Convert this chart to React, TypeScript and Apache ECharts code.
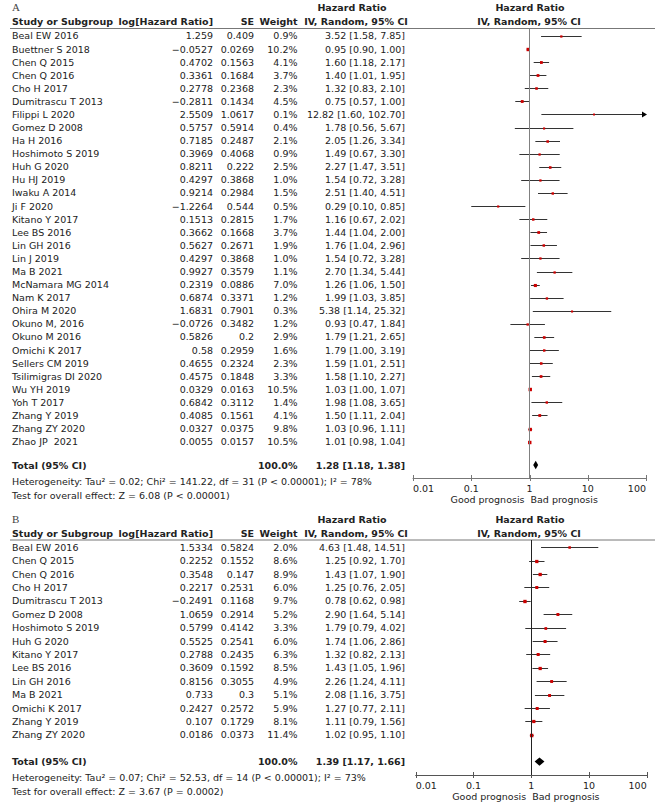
import React, { useEffect, useRef } from "react";
import * as echarts from "echarts";

// ---------- Data: panel A ----------
const studiesA = [
  "Beal EW 2016", "Buettner S 2018", "Chen Q 2015", "Chen Q 2016", "Cho H 2017",
  "Dumitrascu T 2013", "Filippi L 2020", "Gomez D 2008", "Ha H 2016", "Hoshimoto S 2019",
  "Huh G 2020", "Hu HJ 2019", "Iwaku A 2014", "Ji F 2020", "Kitano Y 2017",
  "Lee BS 2016", "Lin GH 2016", "Lin J 2019", "Ma B 2021", "McNamara MG 2014",
  "Nam K 2017", "Ohira M 2020", "Okuno M, 2016", "Okuno M 2016", "Omichi K 2017",
  "Sellers CM 2019", "Tsilimigras DI 2020", "Wu YH 2019", "Yoh T 2017", "Zhang Y 2019",
  "Zhang ZY 2020", "Zhao JP  2021",
];
const logHrA = [
  1.259, -0.0527, 0.4702, 0.3361, 0.2778, -0.2811, 2.5509, 0.5757, 0.7185, 0.3969,
  0.8211, 0.4297, 0.9214, -1.2264, 0.1513, 0.3662, 0.5627, 0.4297, 0.9927, 0.2319,
  0.6874, 1.6831, -0.0726, 0.5826, 0.58, 0.4655, 0.4575, 0.0329, 0.6842, 0.4085,
  0.0327, 0.0055,
];
const seA = [
  0.409, 0.0269, 0.1563, 0.1684, 0.2368, 0.1434, 1.0617, 0.5914, 0.2487, 0.4068,
  0.222, 0.3868, 0.2984, 0.544, 0.2815, 0.1668, 0.2671, 0.3868, 0.3579, 0.0886,
  0.3371, 0.7901, 0.3482, 0.2, 0.2959, 0.2324, 0.1848, 0.0163, 0.3112, 0.1561,
  0.0375, 0.0157,
];
const weightA = [
  0.9, 10.2, 4.1, 3.7, 2.3, 4.5, 0.1, 0.4, 2.1, 0.9,
  2.5, 1.0, 1.5, 0.5, 1.7, 3.7, 1.9, 1.0, 1.1, 7.0,
  1.2, 0.3, 1.2, 2.9, 1.6, 2.3, 3.3, 10.5, 1.4, 4.1,
  9.8, 10.5,
];
const hrA = [
  3.52, 0.95, 1.6, 1.4, 1.32, 0.75, 12.82, 1.78, 2.05, 1.49,
  2.27, 1.54, 2.51, 0.29, 1.16, 1.44, 1.76, 1.54, 2.7, 1.26,
  1.99, 5.38, 0.93, 1.79, 1.79, 1.59, 1.58, 1.03, 1.98, 1.5,
  1.03, 1.01,
];
const loA = [
  1.58, 0.9, 1.18, 1.01, 0.83, 0.57, 1.6, 0.56, 1.26, 0.67,
  1.47, 0.72, 1.4, 0.1, 0.67, 1.04, 1.04, 0.72, 1.34, 1.06,
  1.03, 1.14, 0.47, 1.21, 1.0, 1.01, 1.1, 1.0, 1.08, 1.11,
  0.96, 0.98,
];
const hiA = [
  7.85, 1.0, 2.17, 1.95, 2.1, 1.0, 102.7, 5.67, 3.34, 3.3,
  3.51, 3.28, 4.51, 0.85, 2.02, 2.0, 2.96, 3.28, 5.44, 1.5,
  3.85, 25.32, 1.84, 2.65, 3.19, 2.51, 2.27, 1.07, 3.65, 2.04,
  1.11, 1.04,
];
const totalA = [1.28, 1.18, 1.38];
const hetA = "Heterogeneity: Tau\u00B2 = 0.02; Chi\u00B2 = 141.22, df = 31 (P < 0.00001); I\u00B2 = 78%";
const effectA = "Test for overall effect: Z = 6.08 (P < 0.00001)";

// ---------- Data: panel B ----------
const studiesB = [
  "Beal EW 2016", "Chen Q 2015", "Chen Q 2016", "Cho H 2017", "Dumitrascu T 2013",
  "Gomez D 2008", "Hoshimoto S 2019", "Huh G 2020", "Kitano Y 2017", "Lee BS 2016",
  "Lin GH 2016", "Ma B 2021", "Omichi K 2017", "Zhang Y 2019", "Zhang ZY 2020",
];
const logHrB = [
  1.5334, 0.2252, 0.3548, 0.2217, -0.2491, 1.0659, 0.5799, 0.5525, 0.2788, 0.3609,
  0.8156, 0.733, 0.2427, 0.107, 0.0186,
];
const seB = [
  0.5824, 0.1552, 0.147, 0.2531, 0.1168, 0.2914, 0.4142, 0.2541, 0.2435, 0.1592,
  0.3055, 0.3, 0.2572, 0.1729, 0.0373,
];
const weightB = [2.0, 8.6, 8.9, 6.0, 9.7, 5.2, 3.3, 6.0, 6.3, 8.5, 4.9, 5.1, 5.9, 8.1, 11.4];
const hrB = [4.63, 1.25, 1.43, 1.25, 0.78, 2.9, 1.79, 1.74, 1.32, 1.43, 2.26, 2.08, 1.27, 1.11, 1.02];
const loB = [1.48, 0.92, 1.07, 0.76, 0.62, 1.64, 0.79, 1.06, 0.82, 1.05, 1.24, 1.16, 0.77, 0.79, 0.95];
const hiB = [14.51, 1.7, 1.9, 2.05, 0.98, 5.14, 4.02, 2.86, 2.13, 1.96, 4.11, 3.75, 2.11, 1.56, 1.1];
const totalB = [1.39, 1.17, 1.66];
const hetB = "Heterogeneity: Tau\u00B2 = 0.07; Chi\u00B2 = 52.53, df = 14 (P < 0.00001); I\u00B2 = 73%";
const effectB = "Test for overall effect: Z = 3.67 (P = 0.0002)";

const tickValues = [0.01, 0.1, 1, 10, 100];
const tickLabels = ["0.01", "0.1", "1", "10", "100"];

// ---------- Layout / style ----------
const FONT = '"DejaVu Sans", sans-serif';
const FS = 9.5;
const TXT = "#222";
const RED = "#cc0000";

const panels = [
  {
    label: "A", studies: studiesA, logHr: logHrA, se: seA, weight: weightA, hr: hrA, lo: loA, hi: hiA,
    total: totalA, het: hetA, effect: effectA,
    top: 28.5, axisY: 478, left: 413, right: 646, yMin: -0.57, yMax: 33.78, totalRow: 32.79,
    titleY: 7, head1Y: 7.5, head2Y: 21.5, hetY: 481, effY: 495.5, progY: 499.5,
    vColor: "#808080", axColor: "#777",
  },
  {
    label: "B", studies: studiesB, logHr: logHrB, se: seB, weight: weightB, hr: hrB, lo: loB, hi: hiB,
    total: totalB, het: hetB, effect: effectB,
    top: 540, axisY: 775, left: 415.7, right: 646.7, yMin: -0.545, yMax: 17, totalRow: 16,
    titleY: 519, head1Y: 519.5, head2Y: 533, hetY: 777, effY: 791, progY: 796,
    vColor: "#222", axColor: "#555",
  },
];

const fmtNum = (v: number) => String(v).replace("-", "\u2212");
const fmtCI = (h: number, l: number, u: number) => `${h.toFixed(2)} [${l.toFixed(2)}, ${u.toFixed(2)}]`;

function txt(x: number, y: number, text: string, align: string, bold = false, extra: any = {}) {
  return {
    type: "text",
    x,
    y,
    silent: true,
    style: {
      text,
      fill: TXT,
      font: `${bold ? "bold " : ""}${FS}px ${FONT}`,
      align,
      textAlign: align,
      verticalAlign: "middle",
      textVerticalAlign: "middle",
      ...extra,
    },
  };
}

function buildOption() {
  const grid: any[] = [];
  const xAxis: any[] = [];
  const yAxis: any[] = [];
  const series: any[] = [];
  const graphic: any[] = [];

  panels.forEach((p, k) => {
    grid.push({ left: p.left, top: p.top, width: p.right - p.left, height: p.axisY - p.top, containLabel: false });
    xAxis.push({
      type: "log", logBase: 10, gridIndex: k, min: 0.01, max: 100, position: "bottom",
      axisLine: { show: true, onZero: false, lineStyle: { color: p.axColor, width: 1 } },
      axisTick: { show: false },
      axisLabel: {
        show: true, margin: 5, fontSize: FS, fontFamily: FONT, color: TXT,
        alignMinLabel: "left", alignMaxLabel: "right",
        formatter: (v: number) => tickLabels[Math.round(Math.log10(v)) + 2] ?? "",
      },
      splitLine: { show: false },
      minorTick: { show: false },
    });
    yAxis.push({ type: "value", gridIndex: k, inverse: true, min: p.yMin, max: p.yMax, show: false });

    // axis tick marks crossing the axis line
    series.push({
      type: "custom",
      xAxisIndex: k,
      yAxisIndex: k,
      encode: { x: 0, y: 1 },
      data: tickValues.map((v) => [v, p.yMax]),
      renderItem: (params: any, api: any) => {
        const c = api.coord([api.value(0), api.value(1)]);
        const x = Math.round(c[0]) + 0.5;
        return {
          type: "line",
          shape: { x1: x, y1: c[1] - 3, x2: x, y2: c[1] + 3 },
          style: { stroke: p.axColor, lineWidth: 1 },
        };
      },
      z: 4,
    });

    // forest marks
    series.push({
      type: "custom",
      xAxisIndex: k,
      yAxisIndex: k,
      encode: { x: [0, 1, 2], y: 3 },
      data: p.studies.map((_, i) => [p.lo[i], p.hi[i], p.hr[i], i, p.weight[i]]),
      renderItem: (params: any, api: any) => {
        const lo = api.value(0);
        const hi = api.value(1);
        const hr = api.value(2);
        const row = api.value(3);
        const w = api.value(4);
        const hiC = Math.min(hi, 100);
        const a = api.coord([lo, row]);
        const b = api.coord([hiC, row]);
        const c = api.coord([hr, row]);
        const y = Math.round(c[1]) + 0.5;
        const s = 1.8 + 0.5 * Math.sqrt(w);
        const children: any[] = [
          { type: "line", shape: { x1: a[0], y1: y, x2: b[0], y2: y }, style: { stroke: "#333", lineWidth: 1 } },
          { type: "rect", shape: { x: c[0] - s / 2, y: y - s / 2, width: s, height: s }, style: { fill: RED } },
        ];
        if (hi > 100) {
          children.push({
            type: "polygon",
            shape: { points: [[b[0] + 1, y], [b[0] - 4, y - 3], [b[0] - 4, y + 3]] },
            style: { fill: "#000" },
          });
        }
        return { type: "group", children };
      },
      markLine: {
        silent: true,
        symbol: ["none", "none"],
        label: { show: false },
        lineStyle: { color: p.vColor, type: "solid", width: 1 },
        data: [{ xAxis: 1 }],
      },
      z: 3,
    });

    // table text rows
    series.push({
      type: "custom",
      xAxisIndex: k,
      yAxisIndex: k,
      encode: { x: 0, y: 1 },
      data: p.studies.map((_, i) => [1, i]),
      renderItem: (params: any, api: any) => {
        const i = params.dataIndex;
        const y = api.coord([1, api.value(1)])[1];
        return {
          type: "group",
          children: [
            txt(12, y, p.studies[i], "left"),
            txt(213, y, fmtNum(p.logHr[i]), "right"),
            txt(254, y, String(p.se[i]), "right"),
            txt(297.5, y, p.weight[i].toFixed(1) + "%", "right"),
            txt(405, y, fmtCI(p.hr[i], p.lo[i], p.hi[i]), "right"),
          ],
        };
      },
      z: 2,
    });

    // total row with diamond
    series.push({
      type: "custom",
      xAxisIndex: k,
      yAxisIndex: k,
      encode: { x: [0, 1, 2], y: 3 },
      data: [[p.total[1], p.total[2], p.total[0], p.totalRow]],
      renderItem: (params: any, api: any) => {
        const lo = api.value(0);
        const hi = api.value(1);
        const hr = api.value(2);
        const row = api.value(3);
        const a = api.coord([lo, row]);
        const b = api.coord([hi, row]);
        const c = api.coord([hr, row]);
        const y = c[1];
        return {
          type: "group",
          children: [
            {
              type: "polygon",
              shape: { points: [[a[0] - 0.5, y], [c[0], y - 4.2], [b[0] + 0.5, y], [c[0], y + 4.2]] },
              style: { fill: "#000" },
            },
            txt(12, y, "Total (95% CI)", "left", true),
            txt(297.5, y, "100.0%", "right", true),
            txt(405, y, fmtCI(p.total[0], p.total[1], p.total[2]), "right", true),
          ],
        };
      },
      z: 3,
    });

    // headers
    const one = (p.left + p.right) / 2;
    graphic.push({
      type: "text", x: 12, y: p.titleY, silent: true,
      style: { text: p.label, fill: "#444", font: `11px "Liberation Serif", serif`, align: "left", textAlign: "left", verticalAlign: "middle", textVerticalAlign: "middle" },
    });
    graphic.push(txt(352, p.head1Y, "Hazard Ratio", "center", true));
    graphic.push(txt(530, p.head1Y, "Hazard Ratio", "center", true));
    graphic.push(txt(12, p.head2Y, "Study or Subgroup", "left", true));
    graphic.push(txt(213, p.head2Y, "log[Hazard Ratio]", "right", true));
    graphic.push(txt(254, p.head2Y, "SE", "right", true));
    graphic.push(txt(297.5, p.head2Y, "Weight", "right", true));
    graphic.push(txt(356, p.head2Y, "IV, Random, 95% CI", "center", true));
    graphic.push(txt(529, p.head2Y, "IV, Random, 95% CI", "center", true));
    graphic.push({
      type: "line", silent: true,
      shape: { x1: 10, y1: p.top, x2: 655, y2: p.top },
      style: { stroke: "#777", lineWidth: 1 },
    });
    // footers
    graphic.push(txt(12, p.hetY, p.het, "left"));
    graphic.push(txt(12, p.effY, p.effect, "left"));
    graphic.push(txt(one - 5, p.progY, "Good prognosis", "right"));
    graphic.push(txt(one + 1, p.progY, "Bad prognosis", "left"));
  });

  return {
    animation: false,
    backgroundColor: "#fff",
    grid,
    xAxis,
    yAxis,
    series,
    graphic,
  };
}

export default function App() {
  const ref = useRef<HTMLDivElement>(null);
  useEffect(() => {
    if (!ref.current) return;
    const chart = echarts.init(ref.current, undefined, { renderer: "svg" });
    chart.setOption(buildOption() as any);
    return () => chart.dispose();
  }, []);
  return (
    <div
      ref={ref}
      style={{ position: "fixed", left: 0, top: 0, width: 660, height: 802, background: "#fff" }}
    />
  );
}
